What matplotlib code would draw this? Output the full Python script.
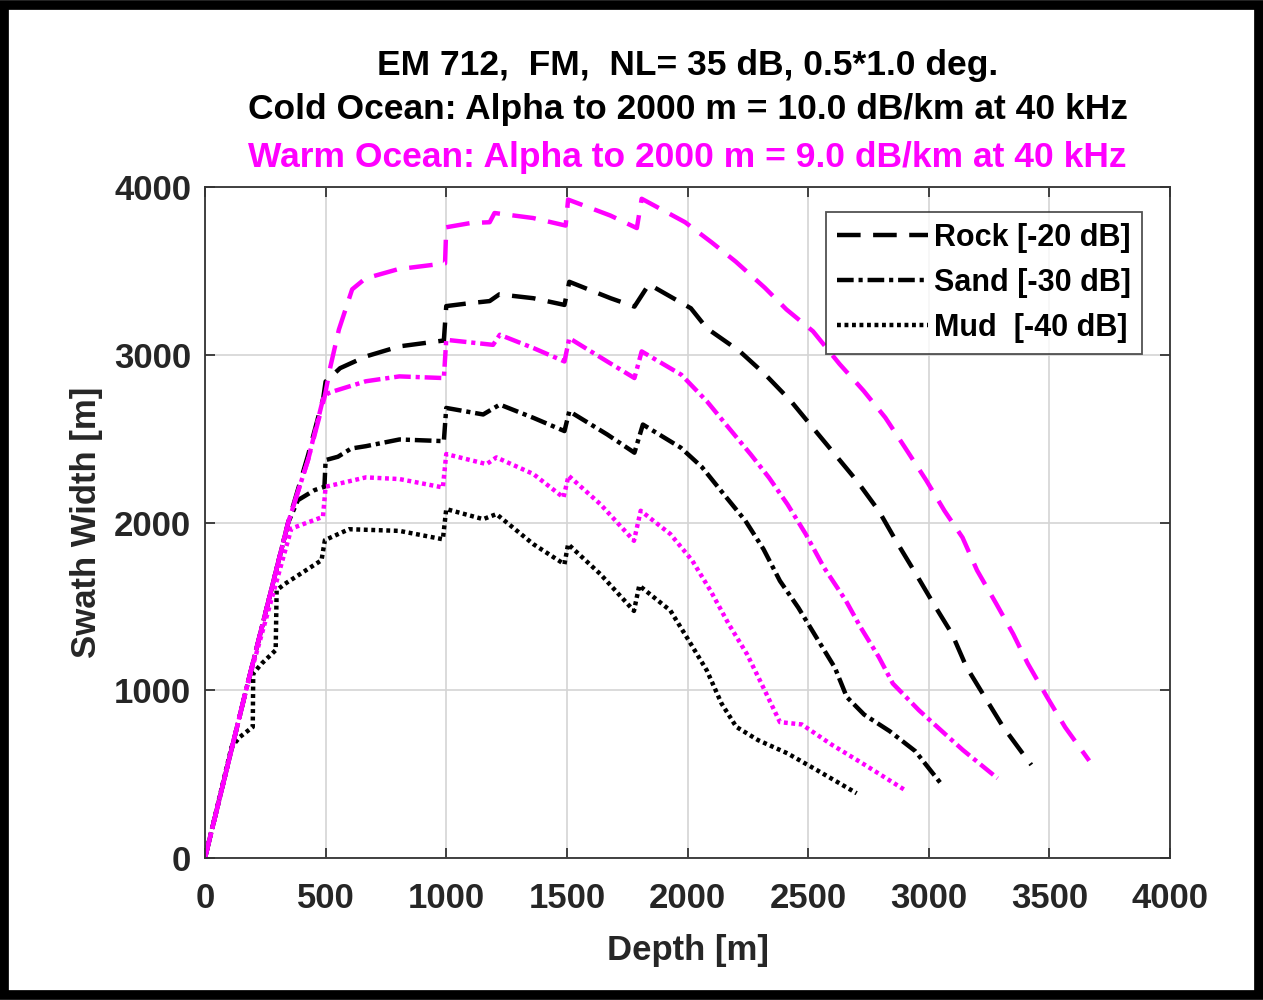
import numpy as np
import matplotlib
matplotlib.use("Agg")
import matplotlib.pyplot as plt
from matplotlib.patches import Rectangle

plt.rcParams['font.family'] = ['Liberation Sans', 'DejaVu Sans']
plt.rcParams['font.weight'] = 'bold'
plt.rcParams['lines.scale_dashes'] = False

# depth [m] / swath width [m]
# cold ocean (black)
rock_cold_x = [0, 170, 345, 427, 490, 500, 560, 667, 806, 990, 1000, 1083, 1180, 1220, 1361, 1490,
               1510, 1681, 1780, 1840, 2014, 2080, 2217, 2323, 2429, 2520, 2611, 2702, 2793, 2868,
               2944, 3020, 3096, 3156, 3232, 3308, 3399, 3425]
rock_cold_y = [0, 1000, 2000, 2400, 2740, 2840, 2920, 2990, 3050, 3085, 3290, 3305, 3320, 3360, 3337, 3297,
               3435, 3337, 3287, 3420, 3277, 3158, 3020, 2881, 2723, 2564, 2406, 2248, 2069, 1881,
               1700, 1515, 1337, 1139, 960, 782, 604, 555]

sand_cold_x = [0, 170, 345, 385, 454, 495, 500, 551, 606, 667, 806, 990, 1000, 1153, 1222, 1361, 1490,
               1510, 1667, 1780, 1815, 1972, 2060, 2150, 2240, 2315, 2383, 2459, 2535, 2611, 2660,
               2732, 2838, 2944, 3058]
sand_cold_y = [0, 1000, 2000, 2133, 2193, 2213, 2372, 2392, 2441, 2455, 2495, 2485, 2683, 2644, 2703, 2624, 2545,
               2663, 2525, 2416, 2584, 2446, 2330, 2169, 2010, 1841, 1652, 1493, 1313, 1134, 960,
               855, 756, 637, 430]

mud_cold_x = [0, 110, 145, 198, 200, 235, 293, 297, 331, 483, 497, 597, 806, 986, 1000, 1153, 1208,
              1361, 1490, 1505, 1639, 1778, 1800, 1929, 2005, 2080, 2141, 2202, 2292, 2414, 2535, 2701]
mud_cold_y = [0, 662, 722, 781, 1100, 1159, 1239, 1596, 1634, 1775, 1895, 1960, 1950, 1900, 2080, 2020, 2050,
              1871, 1751, 1871, 1692, 1473, 1624, 1475, 1297, 1118, 921, 782, 703, 624, 525, 386]

# warm ocean (magenta)
rock_warm_x = [0, 170, 345, 427, 496, 520, 555, 610, 665, 800, 995, 1000, 1100, 1180, 1200, 1360, 1495,
               1505, 1680, 1790, 1810, 1990, 2100, 2200, 2320, 2410, 2520, 2630, 2730, 2820, 2900,
               2990, 3065, 3140, 3200, 3280, 3350, 3410, 3490, 3565, 3665]
rock_warm_y = [0, 1000, 2000, 2372, 2750, 2930, 3150, 3390, 3455, 3510, 3545, 3760, 3785, 3790, 3845, 3815, 3770,
               3925, 3830, 3755, 3930, 3790, 3670, 3555, 3400, 3270, 3140, 2945, 2785, 2625, 2450,
               2250, 2070, 1910, 1715, 1515, 1335, 1160, 960, 780, 580]

sand_warm_x = [0, 170, 345, 427, 490, 510, 528, 667, 806, 990, 1000, 1194, 1222, 1361, 1490, 1510, 1667,
               1780, 1810, 1974, 2080, 2171, 2262, 2338, 2414, 2490, 2565, 2656, 2717, 2793, 2851,
               2959, 3050, 3141, 3285]
sand_warm_y = [0, 1000, 2000, 2372, 2740, 2770, 2780, 2842, 2871, 2861, 3089, 3059, 3119, 3040, 2960, 3099, 2960,
               2861, 3020, 2881, 2723, 2564, 2406, 2267, 2109, 1931, 1733, 1535, 1376, 1198, 1040,
               881, 762, 644, 475]

mud_warm_x = [0, 170, 358, 489, 500, 667, 806, 986, 1000, 1167, 1208, 1361, 1486, 1507, 1639, 1778,
              1806, 1929, 2020, 2096, 2171, 2247, 2308, 2383, 2474, 2596, 2732, 2898]
mud_warm_y = [0, 1000, 1964, 2034, 2213, 2269, 2259, 2209, 2408, 2348, 2388, 2289, 2149, 2279, 2109, 1891,
              2070, 1931, 1772, 1592, 1394, 1214, 1035, 810, 796, 677, 558, 408]

legend_labels = ["Rock [-20 dB]", "Sand [-30 dB]", "Mud  [-40 dB]"]
ticks = [0, 500, 1000, 1500, 2000, 2500, 3000, 3500, 4000]
yticks = [0, 1000, 2000, 3000, 4000]

magenta = '#FF00FF'
dash = (0, (17, 9))
dashdot = (0, (12, 3.5, 3, 3.5))
dot = (0, (2.8, 2.6))
lw = 3.2

fig = plt.figure(figsize=(12.63, 10), dpi=100)
ax = fig.add_axes([0.1623, 0.142, 0.7641, 0.671])

h1, = ax.plot(rock_cold_x, rock_cold_y, color='k', ls=dash, lw=lw, label=legend_labels[0])
h2, = ax.plot(sand_cold_x, sand_cold_y, color='k', ls=dashdot, lw=lw, label=legend_labels[1])
h3, = ax.plot(mud_cold_x, mud_cold_y, color='k', ls=dot, lw=lw, label=legend_labels[2])
ax.plot(rock_warm_x, rock_warm_y, color=magenta, ls=dash, lw=lw)
ax.plot(sand_warm_x, sand_warm_y, color=magenta, ls=dashdot, lw=lw)
ax.plot(mud_warm_x, mud_warm_y, color=magenta, ls=dot, lw=lw)

ax.set_xlim(0, 4000)
ax.set_ylim(0, 4000)
ax.set_xticks(ticks)
ax.set_yticks(yticks)
ax.grid(True, color='#d4d4d4', lw=1.2)
ax.set_axisbelow(True)
ax.tick_params(direction='in', top=True, right=True, length=7, width=1.2,
               labelsize=25, color='#262626', labelcolor='#262626')
ax.tick_params(axis='x', pad=17)
ax.tick_params(axis='y', pad=10)
for s in ax.spines.values():
    s.set_color('#333333')
    s.set_linewidth(1.3)

ax.set_xlabel("Depth [m]", fontsize=25, fontweight='bold', color='#262626', labelpad=14)
ax.set_ylabel("Swath Width [m]", fontsize=25, fontweight='bold', color='#262626', labelpad=8)

leg = ax.legend(handles=[h1, h2, h3], loc='upper right', bbox_to_anchor=(0.971, 0.963),
                borderaxespad=0, fontsize=22, frameon=True, fancybox=False, edgecolor='#262626',
                handlelength=3.0, handletextpad=0.2, borderpad=0.35, labelspacing=0.5)
leg.get_frame().set_linewidth(1.3)

xc = 0.1623 + 0.7641 / 2
fig.text(xc, 0.935, "EM 712,  FM,  NL= 35 dB, 0.5*1.0 deg.", ha='center', va='center',
         fontsize=25.5, fontweight='bold', color='k')
fig.text(xc, 0.890, "Cold Ocean: Alpha to 2000 m = 10.0 dB/km at 40 kHz", ha='center', va='center',
         fontsize=25.5, fontweight='bold', color='k')
fig.text(xc, 0.843, "Warm Ocean: Alpha to 2000 m = 9.0 dB/km at 40 kHz", ha='center', va='center',
         fontsize=25.5, fontweight='bold', color=magenta)

# screenshot frame
fig.patches.append(Rectangle((0.003, 0.005), 0.994, 0.99, transform=fig.transFigure,
                             fill=False, edgecolor='k', linewidth=7))

fig.savefig("out.png", dpi=100)
